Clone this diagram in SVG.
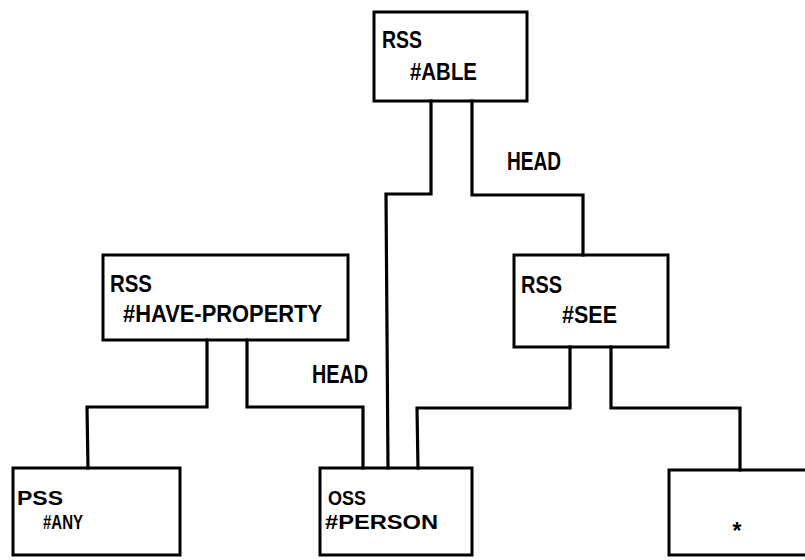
<svg xmlns="http://www.w3.org/2000/svg" width="805" height="560" viewBox="0 0 805 560">
<style>
.box{fill:none;stroke:#000;stroke-width:3}
.ln{fill:none;stroke:#000;stroke-width:3.2;stroke-linejoin:miter;stroke-linecap:square}
.t{font-family:"Liberation Sans",Arial,sans-serif;font-weight:bold;font-size:23px;fill:#000}
.s{font-family:"Liberation Sans",Arial,sans-serif;font-weight:bold;font-size:21px;fill:#000}
.h{font-family:"Liberation Sans",Arial,sans-serif;font-weight:bold;font-size:25px;fill:#000}
</style>
<rect width="805" height="560" fill="#fff"/>
<g id="connectors">
<polyline class="ln" points="431,101 431,194 386,194 388,468"/>
<polyline class="ln" points="472,101 472,195 583,195 583,255"/>
<polyline class="ln" points="207,340 207,407 87,407 88,468"/>
<polyline class="ln" points="247,340 247,407 363,407 363,468"/>
<polyline class="ln" points="570,347 570,408 417,408 418,468"/>
<polyline class="ln" points="611,347 611,408 740,408 740,470"/>
<text class="h" x="507" y="170" textLength="54" lengthAdjust="spacingAndGlyphs">HEAD</text>
<text class="h" x="312" y="383" textLength="56" lengthAdjust="spacingAndGlyphs">HEAD</text>
</g>
<g id="n-able">
<rect class="box" x="374" y="12" width="153" height="89"/>
<text class="t" x="382" y="48" textLength="40" lengthAdjust="spacingAndGlyphs">RSS</text>
<text class="t" x="410" y="80" textLength="67" lengthAdjust="spacingAndGlyphs">#ABLE</text>
</g>
<g id="n-have-property">
<rect class="box" x="103" y="255" width="245" height="85"/>
<text class="t" x="110" y="292" textLength="42" lengthAdjust="spacingAndGlyphs">RSS</text>
<text class="t" x="123" y="322" textLength="199" lengthAdjust="spacingAndGlyphs">#HAVE-PROPERTY</text>
</g>
<g id="n-see">
<rect class="box" x="514" y="255" width="154" height="92"/>
<text class="t" x="521" y="293" textLength="41" lengthAdjust="spacingAndGlyphs">RSS</text>
<text class="t" x="562" y="323" textLength="55" lengthAdjust="spacingAndGlyphs">#SEE</text>
</g>
<g id="n-any">
<rect class="box" x="13" y="468" width="167" height="87"/>
<text class="s" x="17" y="505" textLength="46" lengthAdjust="spacingAndGlyphs">PSS</text>
<text class="s" x="43" y="529" textLength="40" lengthAdjust="spacingAndGlyphs">#ANY</text>
</g>
<g id="n-person">
<rect class="box" x="320" y="468" width="152" height="87"/>
<text class="s" x="328" y="505" textLength="38" lengthAdjust="spacingAndGlyphs">OSS</text>
<text class="s" x="325" y="529" textLength="113" lengthAdjust="spacingAndGlyphs">#PERSON</text>
</g>
<g id="n-star">
<rect class="box" x="669" y="470" width="150" height="85"/>
<text class="t" x="737" y="539" text-anchor="middle" font-size="22">*</text>
</g>
</svg>
